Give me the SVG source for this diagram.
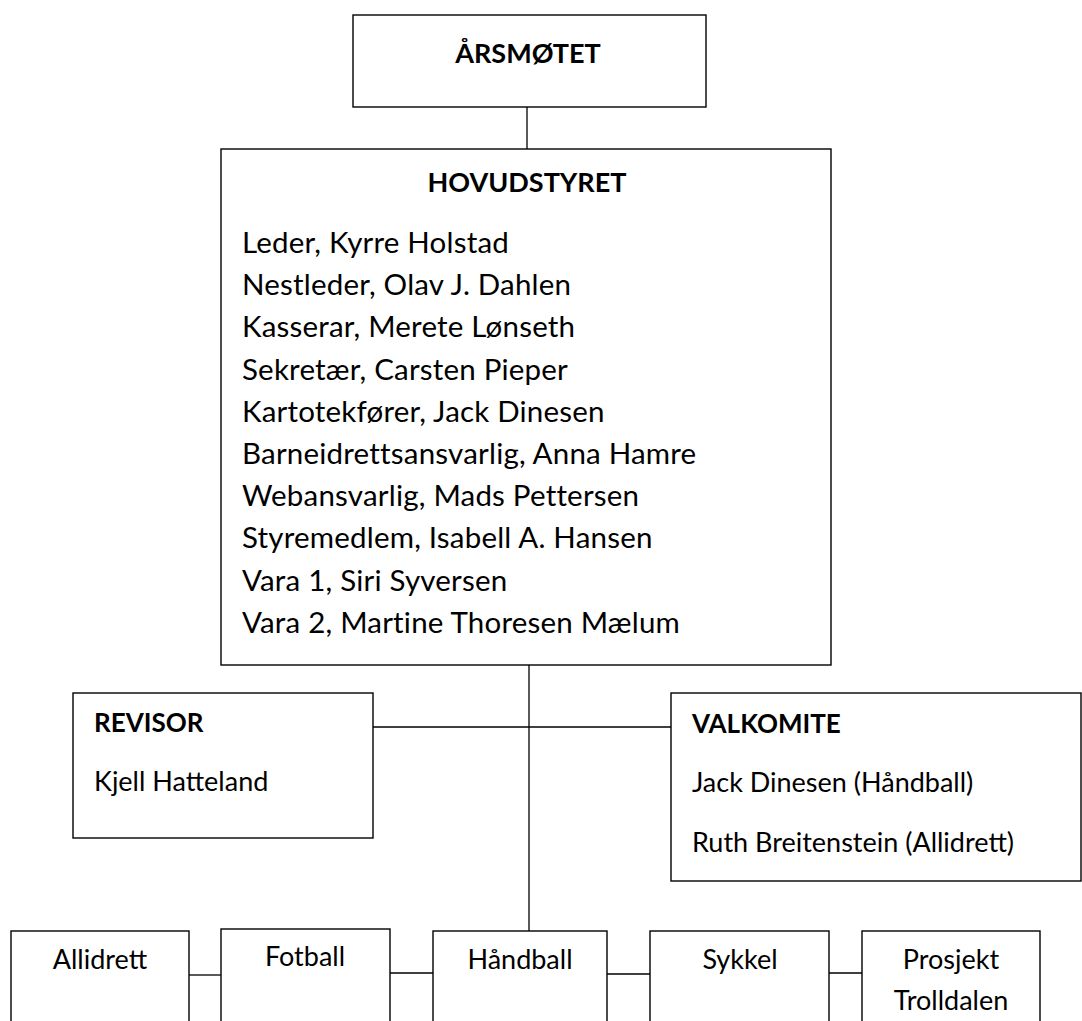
<svg xmlns="http://www.w3.org/2000/svg" width="1082" height="1021" viewBox="0 0 1082 1021">
<style>
.box{fill:#fff;stroke:#000;stroke-width:1.4}
.ln{stroke:#000;stroke-width:1.3;fill:none}
text{font-family:Lato,"Liberation Sans",sans-serif;fill:#000}
.b{font-weight:bold;font-size:26px}
.h{font-size:27px}
.t{font-size:29.5px;letter-spacing:0.2px}
.s{font-size:27px}
.c{text-anchor:middle}
</style>
<rect width="1082" height="1021" fill="#fff"/>
<g id="connectors">
<line class="ln" x1="527" y1="107" x2="527" y2="149"/>
<line class="ln" x1="529" y1="665" x2="529" y2="931"/>
<line class="ln" x1="373" y1="727" x2="671" y2="727"/>
<line class="ln" x1="189" y1="975" x2="221" y2="975"/>
<line class="ln" x1="390" y1="973" x2="433" y2="973"/>
<line class="ln" x1="607" y1="974" x2="650" y2="974"/>
<line class="ln" x1="829" y1="973" x2="862" y2="973"/>
</g>
<g id="arsmotet">
<rect class="box" x="353" y="15" width="353" height="92"/>
<text class="b h c" x="528" y="63">ÅRSMØTET</text>
</g>
<g id="hovudstyret">
<rect class="box" x="221" y="149" width="610" height="516"/>
<text class="b h c" x="527" y="192">HOVUDSTYRET</text>
<text class="t" x="242" y="253">Leder, Kyrre Holstad</text>
<text class="t" x="242" y="295">Nestleder, Olav J. Dahlen</text>
<text class="t" x="242" y="337">Kasserar, Merete Lønseth</text>
<text class="t" x="242" y="380">Sekretær, Carsten Pieper</text>
<text class="t" x="242" y="422">Kartotekfører, Jack Dinesen</text>
<text class="t" x="242" y="464">Barneidrettsansvarlig, Anna Hamre</text>
<text class="t" x="242" y="506">Webansvarlig, Mads Pettersen</text>
<text class="t" x="242" y="548">Styremedlem, Isabell A. Hansen</text>
<text class="t" x="242" y="591">Vara 1, Siri Syversen</text>
<text class="t" x="242" y="633">Vara 2, Martine Thoresen Mælum</text>
</g>
<g id="revisor">
<rect class="box" x="73" y="693" width="300" height="145"/>
<text class="b" x="94" y="732">REVISOR</text>
<text class="s" x="94" y="791">Kjell Hatteland</text>
</g>
<g id="valkomite">
<rect class="box" x="671" y="693" width="410" height="188"/>
<text class="b" x="692" y="733">VALKOMITE</text>
<text class="s" x="692" y="792">Jack Dinesen (Håndball)</text>
<text class="s" x="692" y="852">Ruth Breitenstein (Allidrett)</text>
</g>
<g id="allidrett">
<rect class="box" x="11" y="931" width="178" height="120"/>
<text class="s c" x="100" y="969">Allidrett</text>
</g>
<g id="fotball">
<rect class="box" x="221" y="929" width="169" height="120"/>
<text class="s c" x="305" y="966">Fotball</text>
</g>
<g id="handball">
<rect class="box" x="433" y="931" width="174" height="120"/>
<text class="s c" x="520" y="969">Håndball</text>
</g>
<g id="sykkel">
<rect class="box" x="650" y="931" width="179" height="120"/>
<text class="s c" x="740" y="969">Sykkel</text>
</g>
<g id="prosjekt">
<rect class="box" x="862" y="931" width="178" height="120"/>
<text class="s c" x="951" y="969">Prosjekt</text>
<text class="s c" x="951" y="1010">Trolldalen</text>
</g>
</svg>
